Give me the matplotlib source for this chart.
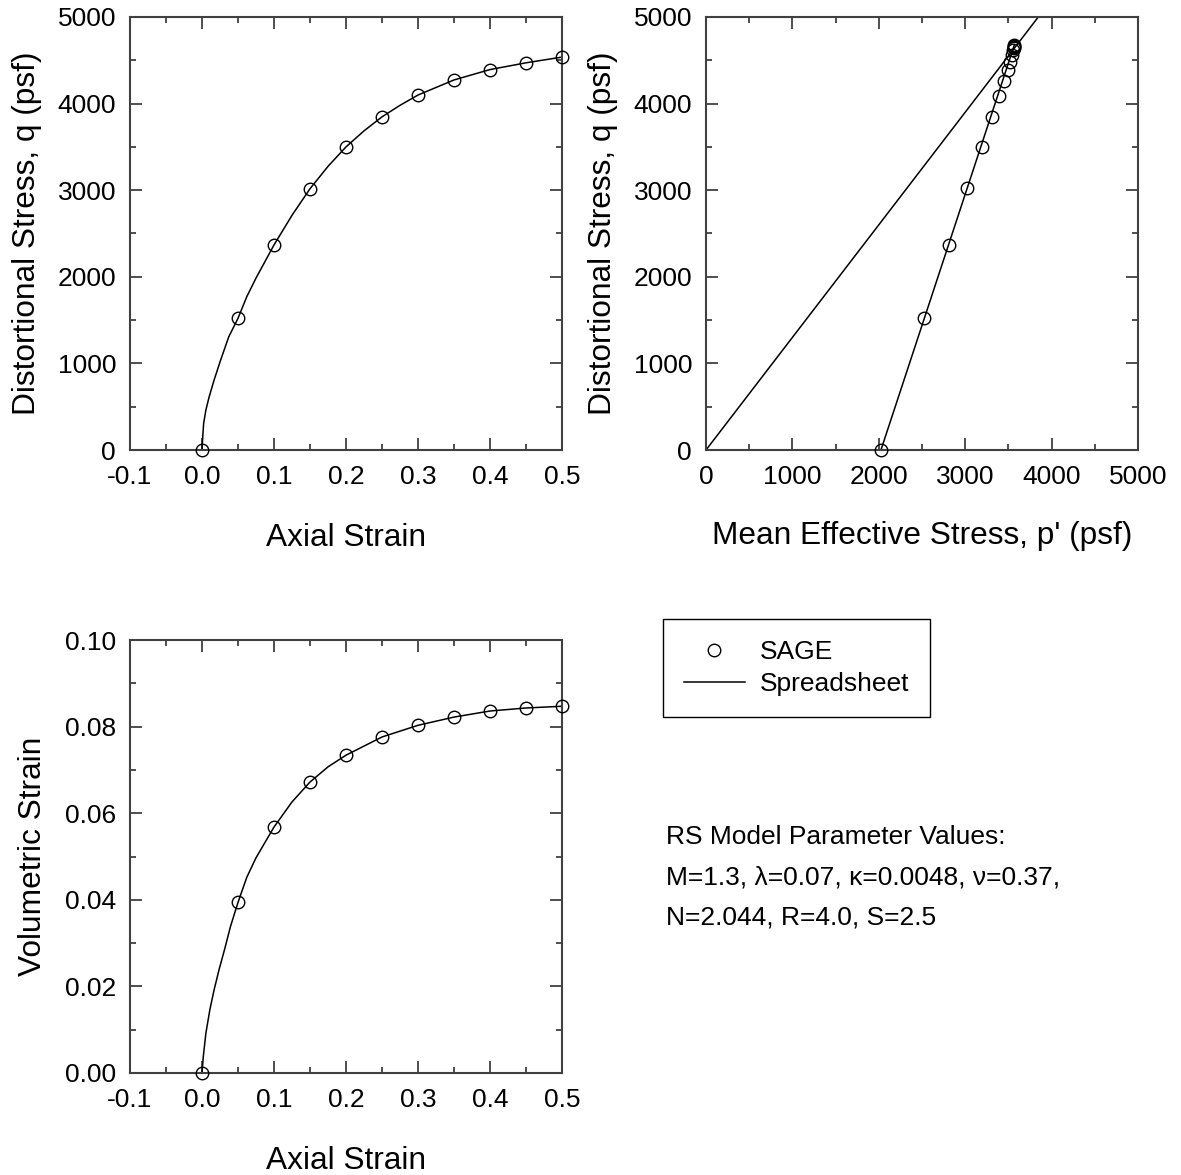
"""SAGE vs spreadsheet check of the RS model for a drained triaxial test."""

import matplotlib

matplotlib.use("Agg")
import matplotlib.pyplot as plt
from matplotlib.ticker import MultipleLocator

plt.rcParams["font.family"] = ["Liberation Sans", "DejaVu Sans"]

# q vs axial strain
sage_strain = [0.0, 0.05, 0.10, 0.15, 0.20, 0.25, 0.30, 0.35, 0.40, 0.45, 0.50]
sage_q = [0, 1521, 2368, 3017, 3500, 3847, 4099, 4273, 4393, 4471, 4537]
sheet_strain = [0.0, 0.001, 0.0023, 0.0054, 0.010, 0.0168, 0.0259, 0.0372, 0.05,
                0.0622, 0.075, 0.10, 0.125, 0.15, 0.175, 0.20, 0.225, 0.25,
                0.275, 0.30, 0.35, 0.40, 0.45, 0.50]
sheet_q = [0, 150, 308, 462, 616, 808, 1039, 1308, 1521, 1770, 1985, 2368, 2710,
           3017, 3275, 3500, 3685, 3847, 3980, 4099, 4273, 4393, 4471, 4537]

# stress path
sage_p = [2025, 2528, 2809, 3025, 3191, 3306, 3391, 3449, 3491, 3522, 3542,
          3557, 3562, 3565, 3568, 3570]
sage_pq = [0, 1521, 2368, 3022, 3502, 3842, 4091, 4265, 4388, 4484, 4561,
           4619, 4640, 4657, 4670, 4680]
sheet_p = [2025, 3570]
sheet_pq = [0, 4680]
csl_p = [0, 3846]
csl_q = [0, 5000]

# volumetric strain vs axial strain
sage_ev = [0.0, 0.0394, 0.0568, 0.0672, 0.0734, 0.0776, 0.0803, 0.0822, 0.0836,
           0.0843, 0.0847]
sheet_ev_strain = [0.0, 0.0018, 0.0054, 0.0109, 0.0168, 0.0236, 0.0313, 0.0395,
                   0.05, 0.0622, 0.075, 0.10, 0.125, 0.15, 0.175, 0.20, 0.25,
                   0.30, 0.35, 0.40, 0.45, 0.50]
sheet_ev = [0.0, 0.0038, 0.0092, 0.0146, 0.0192, 0.0238, 0.0285, 0.0338, 0.0394,
            0.0452, 0.0497, 0.0568, 0.0626, 0.0672, 0.0707, 0.0734, 0.0776,
            0.0803, 0.0822, 0.0836, 0.0843, 0.0847]

param_lines = [
    "RS Model Parameter Values:",
    "M=1.3, \u03bb=0.07, \u03ba=0.0048, \u03bd=0.37,",
    "N=2.044, R=4.0, S=2.5",
]

SPINE = "#404040"
TICK_FS = 19
LABEL_FS = 22.8
MARK = dict(ls="none", marker="o", ms=9, mfc="none", mec="black", mew=1.0,
            clip_on=False, zorder=3)
LINE = dict(color="black", lw=1.1)


def style(ax, xlim, ylim, xmaj, ymaj):
    ax.set_xlim(*xlim)
    ax.set_ylim(*ylim)
    ax.xaxis.set_major_locator(MultipleLocator(xmaj))
    ax.xaxis.set_minor_locator(MultipleLocator(xmaj / 2))
    ax.yaxis.set_major_locator(MultipleLocator(ymaj))
    ax.yaxis.set_minor_locator(MultipleLocator(ymaj / 2))
    ax.tick_params(which="both", direction="in", top=True, right=True,
                   color=SPINE, width=1.3, labelsize=TICK_FS)
    ax.tick_params(axis="x", which="both", pad=11)
    ax.tick_params(axis="y", which="both", pad=10)
    ax.tick_params(which="major", length=8.5)
    ax.tick_params(which="minor", length=4.3)
    for sp in ax.spines.values():
        sp.set_color(SPINE)
        sp.set_linewidth(1.5)


fig = plt.figure(figsize=(11.81, 11.75), dpi=100)
w, h = 432 / 1181, 433 / 1175
ax1 = fig.add_axes([130 / 1181, 1 - 450 / 1175, w, h])
ax2 = fig.add_axes([706 / 1181, 1 - 450 / 1175, w, h])
ax3 = fig.add_axes([130 / 1181, 1 - 1073 / 1175, w, h])

ax1.plot(sheet_strain, sheet_q, **LINE)
ax1.plot(sage_strain, sage_q, **MARK)
style(ax1, (-0.1, 0.5), (0, 5000), 0.1, 1000)
ax1.xaxis.set_major_formatter(lambda v, pos: f"{v:.1f}")
ax1.set_xlabel("Axial Strain", fontsize=LABEL_FS, labelpad=24)
ax1.set_ylabel("Distortional Stress, q (psf)", fontsize=LABEL_FS, labelpad=11.5)

ax2.plot(csl_p, csl_q, **LINE)
ax2.plot(sheet_p, sheet_pq, **LINE)
ax2.plot(sage_p, sage_pq, **MARK)
style(ax2, (0, 5000), (0, 5000), 1000, 1000)
ax2.set_xlabel("Mean Effective Stress, p' (psf)", fontsize=LABEL_FS, labelpad=23)
ax2.set_ylabel("Distortional Stress, q (psf)", fontsize=LABEL_FS, labelpad=11.5)

line_h, = ax3.plot(sheet_ev_strain, sheet_ev, **LINE)
mark_h, = ax3.plot(sage_strain, sage_ev, **MARK)
style(ax3, (-0.1, 0.5), (0, 0.1), 0.1, 0.02)
ax3.xaxis.set_major_formatter(lambda v, pos: f"{v:.1f}")
ax3.yaxis.set_major_formatter(lambda v, pos: f"{v:.2f}")
ax3.set_xlabel("Axial Strain", fontsize=LABEL_FS, labelpad=24)
ax3.set_ylabel("Volumetric Strain", fontsize=LABEL_FS, labelpad=12)

leg = fig.legend([mark_h, line_h], ["SAGE", "Spreadsheet"], loc="upper left",
                 bbox_to_anchor=(663 / 1181, 1 - 619 / 1175), borderaxespad=0,
                 fontsize=19, handlelength=2.3, handletextpad=0.57,
                 labelspacing=0.3, borderpad=0.8, fancybox=False,
                 edgecolor="black", framealpha=1)
leg.get_frame().set_linewidth(1.0)

for i, txt in enumerate(param_lines):
    fig.text(666 / 1181, 1 - (837 + 40 * i) / 1175, txt,
             fontsize=19, va="center", ha="left")

fig.savefig("out.png", dpi=100)
